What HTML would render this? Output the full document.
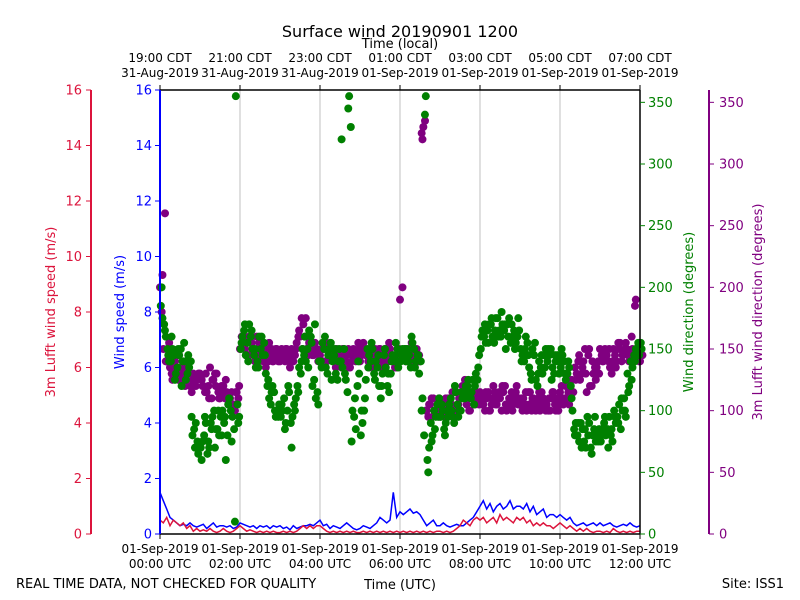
<!DOCTYPE html>
<html><head><meta charset="utf-8">
<style>
html,body{margin:0;padding:0;background:#fff;}
svg{display:block;font-family:"DejaVu Sans","Liberation Sans",sans-serif;}
</style></head>
<body>
<svg id="chart" width="800" height="600" viewBox="0 0 800 600"></svg>
<script>
const greenA=[185,170,150,140,145,135,150,155,130,140,85,75,
70,80,65,90,100,85,95,90,80,100,85,105,
150,165,155,160,145,140,150,155,120,105,115,100,
95,110,100,90,105,120,130,145,150,160,125,115,
140,150,130,155,145,125,140,150,115,330,95,120,
80,100,150,140,130,135,110,145,120,130,140,150,
140,145,150,135,150,145,140,80,60,90,100,105,
95,85,100,110,90,105,100,115,120,110,105,125,
150,160,165,170,155,175,160,165,170,155,165,160,
150,140,155,130,145,120,135,145,140,150,130,145,
135,140,130,120,85,80,90,75,95,70,85,80,
75,90,85,80,100,95,85,110,130,140,145,150,155];
const greenB=[175,160,140,150,130,145,140,125,135,80,90,70,
75,90,70,95,85,80,100,60,110,95,355,95,
160,145,170,150,135,160,145,130,110,120,95,105,
100,90,115,95,110,135,150,140,165,120,110,140,
155,135,150,140,130,150,135,125,355,100,85,130,
90,125,145,150,140,120,130,135,115,145,155,140,
150,140,145,155,140,130,110,355,70,80,95,110,
100,90,105,95,115,100,110,120,115,125,130,145,
165,155,170,160,175,165,170,150,175,160,155,165,
145,160,135,150,125,140,130,150,145,135,140,130,
145,125,135,100,90,75,85,70,90,80,75,85,
85,80,95,75,90,105,100,95,120,135,150,145];
const greenC=[200,165,145,160,125,150,120,140,145,95,70,65,
60,95,75,85,70,100,80,95,105,75,10,90,
155,170,140,165,150,135,160,145,125,115,100,95,
105,85,120,70,100,115,140,160,135,155,170,105,
135,160,145,125,150,140,320,130,345,75,110,140,
100,110,135,155,125,145,120,150,130,140,145,135,
145,150,140,160,135,145,100,340,50,75,85,95,
105,80,95,100,120,95,115,110,125,115,120,135,
160,170,155,175,165,160,180,170,160,170,150,175,
140,150,145,125,155,130,145,135,150,125,145,140,
150,130,140,110,80,90,70,85,80,65,95,75,
80,95,70,85,95,90,110,100,115,125,140,155,150];
const purpleA=[200,150,140,135,145,130,125,140,135,120,130,125,
130,120,115,135,125,130,110,120,115,110,105,115,
150,160,155,145,150,160,145,140,150,145,140,150,
140,145,150,135,140,155,160,170,150,155,145,150,
145,150,140,155,145,150,140,150,145,135,150,145,
140,155,145,150,135,145,150,140,145,150,140,135,
190,145,150,140,145,150,140,330,100,105,110,100,
95,100,105,110,100,115,110,120,105,100,110,115,
115,105,110,100,120,105,110,115,100,110,105,120,
105,110,100,115,110,105,100,110,105,100,115,110,
115,105,110,120,115,130,125,140,115,120,130,135,
150,140,145,135,150,140,155,145,150,140,145,150,140];
const purpleB=[180,260,150,130,140,125,135,120,130,115,125,130,
125,115,120,110,130,115,120,110,105,115,100,110,
160,150,145,155,140,150,155,145,140,150,145,140,
150,140,145,150,145,160,175,160,145,150,155,140,
150,140,145,150,140,145,135,145,150,140,145,155,
145,150,140,145,150,140,145,150,140,145,135,140,
145,150,140,155,145,140,325,335,95,110,100,105,
100,95,110,105,115,105,115,125,110,115,105,110,
110,100,115,105,115,110,100,120,105,115,110,105,
110,105,115,100,105,110,115,105,100,110,105,100,
120,110,115,125,135,140,130,150,145,120,135,140,
145,150,140,130,145,155,140,150,145,160,185,145];
const purpleC=[210,140,155,125,135,145,130,125,140,125,120,130,
120,130,110,125,120,110,115,125,110,105,115,120,
155,145,160,150,145,155,150,135,155,140,150,145,
145,150,140,145,150,165,150,175,155,145,150,145,
140,155,150,145,135,145,150,140,135,145,140,150,
150,145,135,140,145,150,135,145,155,140,145,150,
200,140,145,150,140,145,320,100,105,95,100,110,
105,110,100,115,95,110,120,115,100,110,115,105,
105,115,100,110,105,115,120,105,110,100,115,110,
100,115,105,110,100,115,105,100,110,115,100,105,
110,120,105,115,125,145,135,130,150,140,125,130,
140,145,150,140,135,150,145,155,140,150,190,140,145];
const blueSpeed=[1.5,1.2,0.9,0.6,0.5,0.4,0.3,0.35,0.3,0.4,0.3,0.25,
0.3,0.35,0.2,0.3,0.4,0.25,0.3,0.3,0.25,0.3,0.2,0.25,
0.4,0.35,0.3,0.25,0.3,0.2,0.3,0.25,0.3,0.2,0.3,0.25,
0.3,0.2,0.25,0.15,0.3,0.2,0.25,0.3,0.3,0.35,0.3,0.4,
0.5,0.3,0.35,0.2,0.3,0.25,0.2,0.3,0.4,0.3,0.2,0.15,
0.2,0.3,0.25,0.2,0.3,0.4,0.6,0.5,0.4,0.5,1.5,0.6,
0.8,0.7,0.8,0.9,0.75,0.8,0.7,0.5,0.3,0.4,0.5,0.3,
0.3,0.4,0.3,0.25,0.3,0.35,0.3,0.3,0.4,0.5,0.6,0.8,
1.0,1.2,0.9,1.1,0.8,1.0,1.1,0.9,1.0,1.2,0.9,1.0,
1.0,0.9,1.1,0.8,1.0,0.7,0.8,0.9,0.6,0.7,0.7,0.6,
0.7,0.6,0.5,0.6,0.4,0.3,0.35,0.4,0.3,0.35,0.4,0.3,
0.4,0.3,0.35,0.4,0.3,0.25,0.3,0.35,0.3,0.4,0.3,0.25,0.3];
const redSpeed=[0.5,0.4,0.6,0.3,0.5,0.4,0.3,0.4,0.2,0.3,0.1,0.2,
0.1,0.15,0.1,0.2,0.1,0.05,0.1,0.2,0.1,0.05,0.1,0.2,
0.3,0.2,0.1,0.15,0.1,0.05,0.1,0.05,0.1,0.05,0.1,0.05,
0.05,0.1,0.05,0.1,0.05,0.1,0.2,0.3,0.2,0.3,0.2,0.3,
0.3,0.2,0.1,0.05,0.1,0.05,0.1,0.05,0.1,0.05,0.1,0.05,
0.05,0.1,0.05,0.1,0.05,0.1,0.05,0.1,0.05,0.1,0.05,0.1,
0.05,0.1,0.05,0.1,0.05,0.1,0.05,0.1,0.05,0.1,0.05,0.1,
0.1,0.05,0.1,0.05,0.1,0.2,0.3,0.5,0.4,0.3,0.5,0.6,
0.5,0.6,0.4,0.5,0.6,0.4,0.7,0.5,0.6,0.5,0.4,0.6,
0.5,0.6,0.4,0.5,0.3,0.4,0.3,0.4,0.3,0.3,0.2,0.3,
0.4,0.3,0.2,0.3,0.2,0.1,0.2,0.1,0.2,0.1,0.05,0.1,
0.1,0.05,0.1,0.05,0.2,0.1,0.05,0.1,0.05,0.1,0.05,0.1,0.1];
const speedTicks=[0,2,4,6,8,10,12,14,16];
const dirTicks=[0,50,100,150,200,250,300,350];
const utcLabels=["01-Sep-2019|00:00 UTC","01-Sep-2019|02:00 UTC","01-Sep-2019|04:00 UTC","01-Sep-2019|06:00 UTC","01-Sep-2019|08:00 UTC","01-Sep-2019|10:00 UTC","01-Sep-2019|12:00 UTC"];
const localLabels=["19:00 CDT|31-Aug-2019","21:00 CDT|31-Aug-2019","23:00 CDT|31-Aug-2019","01:00 CDT|01-Sep-2019","03:00 CDT|01-Sep-2019","05:00 CDT|01-Sep-2019","07:00 CDT|01-Sep-2019"];

const NS="http://www.w3.org/2000/svg";
const svg=document.getElementById('chart');
const L=160,R=640,T=90,B=534;
const xT=m=>L+(m/720)*(R-L);
const yS=v=>B-(v/16)*(B-T);
const yD=d=>B-(d/360)*(B-T);
function mk(tag,attrs,parent){const e=document.createElementNS(NS,tag);for(const k in attrs)e.setAttribute(k,attrs[k]);(parent||svg).appendChild(e);return e;}
function txt(x,y,s,attrs){const e=mk('text',Object.assign({x:x,y:y},attrs));e.textContent=s;return e;}

[120,240,360,480,600].forEach(m=>{
 const g=mk('line',{x1:xT(m),x2:xT(m),y1:T,y2:B,stroke:'#b0b0b0','stroke-width':0.8});
 
 
});
function line(arr,color,name){
 const pts=arr.map((v,i)=>xT(i*5).toFixed(1)+','+yS(v).toFixed(1)).join(' ');
 const p=mk('polyline',{points:pts,fill:'none',stroke:color,'stroke-width':1.5});
 
 
}
function dots(arr,off,color,name){
 arr.forEach((v,i)=>{
  const c=mk('circle',{cx:xT(i*5+off),cy:yD(v),r:4,fill:color});
  
  
 });
}
dots(purpleA,0,'#800080','lufft-direction-point');
dots(purpleB,2.5,'#800080','lufft-direction-point');
dots(purpleC,3.7,'#800080','lufft-direction-point');
dots(greenA,1.2,'#008000','wind-direction-point');
dots(greenB,3.7,'#008000','wind-direction-point');
dots(greenC,2.4,'#008000','wind-direction-point');
line(blueSpeed,'#0000ff','wind-speed-line');
line(redSpeed,'#dc143c','lufft-speed-line');

mk('line',{x1:L,x2:R,y1:T,y2:T,stroke:'#000','stroke-width':1.5});
mk('line',{x1:L,x2:R,y1:B,y2:B,stroke:'#000','stroke-width':1.5});
mk('line',{x1:R,x2:R,y1:T,y2:B,stroke:'#000','stroke-width':1.5});
mk('line',{x1:L,x2:L,y1:T,y2:B,stroke:'#0000ff','stroke-width':2});
mk('line',{x1:91,x2:91,y1:T,y2:B,stroke:'#dc143c','stroke-width':2});
mk('line',{x1:709,x2:709,y1:T,y2:B,stroke:'#800080','stroke-width':2});

speedTicks.forEach(v=>{
 const y=yS(v);
 mk('line',{x1:L-5,x2:L,y1:y,y2:y,stroke:'#0000ff','stroke-width':1});
 const a=txt(L-8,y+4.5,String(v),{fill:'#0000ff','font-size':13,'text-anchor':'end'});
 
 
 mk('line',{x1:86,x2:91,y1:y,y2:y,stroke:'#dc143c','stroke-width':1});
 const b=txt(82,y+4.5,String(v),{fill:'#dc143c','font-size':13,'text-anchor':'end'});
 
 
});
dirTicks.forEach(v=>{
 const y=yD(v);
 mk('line',{x1:R,x2:R+5,y1:y,y2:y,stroke:'#008000','stroke-width':1});
 const a=txt(R+8,y+4.5,String(v),{fill:'#008000','font-size':13});
 
 
 mk('line',{x1:709,x2:714,y1:y,y2:y,stroke:'#800080','stroke-width':1});
 const b=txt(719,y+4.5,String(v),{fill:'#800080','font-size':13});
 
 
});
utcLabels.forEach((s,i)=>{
 const x=xT(i*120);const p=s.split('|');
 mk('line',{x1:x,x2:x,y1:B,y2:B+5,stroke:'#000'});
 const a=txt(x,553,p[0],{'font-size':12,'text-anchor':'middle'});
 
 
 const b=txt(x,568,p[1],{'font-size':12,'text-anchor':'middle'});
 
 
 mk('line',{x1:x,x2:x,y1:T-5,y2:T,stroke:'#000'});
 const q=localLabels[i].split('|');
 const c=txt(x,62,q[0],{'font-size':12,'text-anchor':'middle'});
 
 
 const d=txt(x,77,q[1],{'font-size':12,'text-anchor':'middle'});
 
 
});
</script>
<script>
(function(){
const svg=document.getElementById('chart');const NS="http://www.w3.org/2000/svg";
function t(x,y,s,a,name){const e=document.createElementNS(NS,'text');e.setAttribute('x',x);e.setAttribute('y',y);for(const k in a)e.setAttribute(k,a[k]);e.textContent=s;


svg.appendChild(e);}
t(400,37,'Surface wind 20190901 1200',{'font-size':16,'text-anchor':'middle'},'chart-title');
t(400,48,'Time (local)',{'font-size':13,'text-anchor':'middle'},'top-axis-title');
t(400,589,'Time (UTC)',{'font-size':13,'text-anchor':'middle'},'x-axis-title');
t(16,588,'REAL TIME DATA, NOT CHECKED FOR QUALITY',{'font-size':13},'quality-note');
t(784,588,'Site: ISS1',{'font-size':13,'text-anchor':'end'},'site-label');
t(55,312,'3m Lufft wind speed (m/s)',{'font-size':13,'text-anchor':'middle',fill:'#dc143c',transform:'rotate(-90 55 312)'},'lufft-speed-axis-title');
t(124,312,'Wind speed (m/s)',{'font-size':13,'text-anchor':'middle',fill:'#0000ff',transform:'rotate(-90 124 312)'},'speed-axis-title');
t(693,312,'Wind direction (degrees)',{'font-size':13,'text-anchor':'middle',fill:'#008000',transform:'rotate(-90 693 312)'},'direction-axis-title');
t(762,312,'3m Lufft wind direction (degrees)',{'font-size':13,'text-anchor':'middle',fill:'#800080',transform:'rotate(-90 762 312)'},'lufft-direction-axis-title');
})();
</script>
</body></html>
